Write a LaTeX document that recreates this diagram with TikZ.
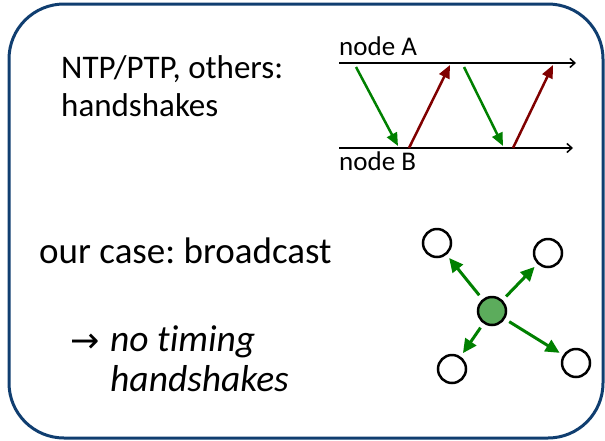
\documentclass[tikz,border=0pt]{standalone}
\usepackage{fontspec}
\setmainfont{Carlito}[Ligatures=NoCommon]
\newfontfamily\arrowfont{DejaVu Sans}
\usetikzlibrary{arrows.meta}
\definecolor{boxblue}{RGB}{16,62,112}
\definecolor{msggreen}{RGB}{0,128,0}
\definecolor{msgred}{RGB}{128,0,0}
\definecolor{nodefill}{RGB}{92,172,92}
\tikzset{
  txt/.style={inner sep=0pt, anchor=base west, align=left, execute at begin node=\frenchspacing},
  timeline/.style={line width=2.5pt, black, -{Straight Barb[length=5pt,width=9pt,line width=1.5pt]}},
  gmsg/.style={line width=2.5pt, msggreen, -{Triangle[length=13pt,width=11pt]}},
  rmsg/.style={line width=2.5pt, msgred, -{Triangle[length=13pt,width=11pt]}},
  peer/.style={circle, draw=black, line width=2.5pt, minimum size=28pt, inner sep=0pt},
  bcast/.style={line width=3pt, msggreen, -{Triangle[length=14pt,width=13pt]}, shorten <=5pt, shorten >=4pt}
}
\begin{document}
\begin{tikzpicture}[x=1pt,y=-1pt]
\useasboundingbox (0,0) rectangle (605,440);
\draw[boxblue, line width=3pt, rounded corners=55pt] (9,4) rectangle (603,438);

\node[txt, font=\fontsize{33}{38.5}\selectfont] (t1) at (61,116.5) {NTP/PTP, others:\\handshakes};
\node[txt, font=\fontsize{37}{40}\selectfont] (t2) at (39,263) {our case: broadcast};
\node[txt, font=\arrowfont\fontsize{35}{40}\selectfont] (arr) at (70,352.5) {→};
\node[txt, font=\itshape\fontsize{37.5}{40}\selectfont] (t3) at (110,391.5) {no timing\\handshakes};

% timelines
\coordinate (a0) at (339,63); \coordinate (a1) at (576,63);
\coordinate (b0) at (339,148); \coordinate (b1) at (573,148);
\draw[timeline] (a0) -- (a1);
\draw[timeline] (b0) -- (b1);
\node[txt, font=\fontsize{27}{30}\selectfont] (na) at (339,55) {node A};
\node[txt, font=\fontsize{27}{30}\selectfont] (nb) at (339,170) {node B};

\coordinate (g1s) at (356,67); \coordinate (g1e) at (398,146);
\coordinate (r1s) at (409,148); \coordinate (r1e) at (450,65);
\coordinate (g2s) at (464,67); \coordinate (g2e) at (503,146);
\coordinate (r2s) at (513,148); \coordinate (r2e) at (553,65);
\draw[gmsg] (g1s) -- (g1e);
\draw[rmsg] (r1s) -- (r1e);
\draw[gmsg] (g2s) -- (g2e);
\draw[rmsg] (r2s) -- (r2e);

% broadcast
\node[peer, fill=nodefill] (c) at (492,311) {};
\node[peer] (tl) at (437,243) {};
\node[peer] (tr) at (548,253) {};
\node[peer] (bl) at (452,369) {};
\node[peer] (br) at (576,363) {};
\draw[bcast] (c) -- (tl);
\draw[bcast] (c) -- (tr);
\draw[bcast] (c) -- (bl);
\draw[bcast] (c) -- (br);
\end{tikzpicture}
\end{document}
